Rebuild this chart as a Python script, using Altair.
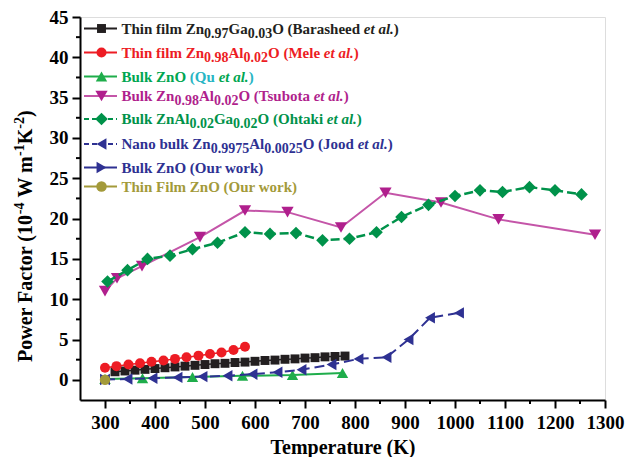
import altair as alt
import pandas as pd

FONT = "Liberation Serif"

# ---------------- data ----------------
sq_T = [320, 340, 360, 380, 400, 420, 440, 460, 480, 500, 520, 540, 560, 580, 600, 620, 640, 660, 680, 700, 720, 740, 760, 780]
sq_PF = [1.0, 1.1, 1.2, 1.3, 1.4, 1.5, 1.6, 1.7, 1.8, 1.9, 2.0, 2.05, 2.15, 2.2, 2.3, 2.4, 2.45, 2.55, 2.6, 2.7, 2.75, 2.85, 2.9, 2.95]

ci_T = [300, 323, 347, 370, 393, 417, 440, 463, 487, 510, 533, 557, 580]
ci_PF = [1.5, 1.7, 1.9, 2.05, 2.25, 2.4, 2.6, 2.8, 3.0, 3.2, 3.4, 3.7, 4.1]

tu_T = [300, 375, 475, 575, 675, 775]
tu_PF = [0.1, 0.2, 0.35, 0.5, 0.6, 0.85]

td_T = [300, 324, 374, 490, 580, 665, 772, 861, 972, 1087, 1280]
td_PF = [11.0, 12.6, 14.1, 17.7, 21.0, 20.8, 18.9, 23.2, 22.0, 19.9, 18.0]

di_T = [305, 345, 385, 430, 475, 525, 580, 630, 682, 735, 789, 843, 893, 947, 1000, 1050, 1095, 1149, 1200, 1253]
di_PF = [12.2, 13.6, 15.0, 15.4, 16.2, 17.0, 18.3, 18.1, 18.2, 17.3, 17.5, 18.3, 20.2, 21.7, 22.8, 23.5, 23.3, 23.9, 23.5, 23.0]

tl_T = [300, 345, 395, 445, 495, 545, 595, 645, 693, 753, 807, 863, 907, 950, 1008]
tl_PF = [0.05, 0.1, 0.2, 0.3, 0.4, 0.5, 0.7, 0.95, 1.25, 1.9, 2.6, 2.8, 5.0, 7.7, 8.3]

tr_T = [300]
tr_PF = [0.05]

ol_T = [300]
ol_PF = [0.0]

x_ticks = [300, 400, 500, 600, 700, 800, 900, 1000, 1100, 1200, 1300]
x_minor = [350, 450, 550, 650, 750, 850, 950, 1050, 1150, 1250]
y_ticks = [0, 5, 10, 15, 20, 25, 30, 35, 40, 45]
y_minor = [2.5, 7.5, 12.5, 17.5, 22.5, 27.5, 32.5, 37.5, 42.5]

# ---------------- geometry ----------------
PW, PH = 525, 383
XD = [250, 1300]
YD = [-2.5, 45]


def px2T(px):
    return XD[0] + px * (XD[1] - XD[0]) / PW


def py2PF(py):
    return YD[1] - py * (YD[1] - YD[0]) / PH


series = [
    dict(T=sq_T, PF=sq_PF, color="#231f20", line="#231f20", shape="square", size=80, dash=None, lw=1.5),
    dict(T=ci_T, PF=ci_PF, color="#ed1c24", line="#ed1c24", shape="circle", size=100, dash=None, lw=1.5),
    dict(T=tu_T, PF=tu_PF, color="#1fad4b", line="#1fad4b", shape="triangle-up", size=130, dash=None, lw=2),
    dict(T=td_T, PF=td_PF, color="#b01f8d", line="#c455a8", shape="triangle-down", size=150, dash=None, lw=2),
    dict(T=di_T, PF=di_PF, color="#00924a", line="#00924a", shape="diamond", size=160, dash=[9, 4], lw=2.5),
    dict(T=tl_T, PF=tl_PF, color="#2e3192", line="#2e3192", shape="triangle-left", size=130, dash=[10, 5], lw=2),
    dict(T=tr_T, PF=tr_PF, color="#2e3192", line="#2e3192", shape="triangle-right", size=130, dash=None, lw=2),
    dict(T=ol_T, PF=ol_PF, color="#a39a3a", line="#a39a3a", shape="circle", size=110, dash=None, lw=2),
]

xscale = alt.Scale(domain=XD, nice=False, zero=False)
yscale = alt.Scale(domain=YD, nice=False, zero=False)

xaxis = alt.Axis(
    values=x_ticks, title="Temperature (K)", grid=False, format="d",
    labelFont=FONT, labelFontWeight="bold", labelFontSize=19, labelColor="black",
    titleFont=FONT, titleFontWeight="bold", titleFontSize=20, titleColor="black",
    tickSize=8, tickColor="black", tickWidth=2, domainColor="black", domainWidth=2,
    labelPadding=5, titlePadding=5, labelFlush=False,
)
yaxis = alt.Axis(
    values=y_ticks, title=None, grid=False, format="d",
    labelFont=FONT, labelFontWeight="bold", labelFontSize=19, labelColor="black",
    tickSize=8, tickColor="black", tickWidth=2, domainColor="black", domainWidth=2,
    labelPadding=4, labelFlush=False,
)


def X(f="T"):
    return alt.X(f"{f}:Q", scale=xscale, axis=xaxis, title="Temperature (K)")


def Y(f="PF"):
    return alt.Y(f"{f}:Q", scale=yscale, axis=yaxis, title=None)


layers = []

# minor ticks
layers.append(alt.Chart(pd.DataFrame({"T": x_minor})).mark_rule(color="black", strokeWidth=2).encode(
    x=X(), y=alt.value(PH), y2=alt.value(PH + 4)))
layers.append(alt.Chart(pd.DataFrame({"PF": y_minor})).mark_rule(color="black", strokeWidth=2).encode(
    y=Y(), x=alt.value(-4), x2=alt.value(0)))

for s in series:
    df = pd.DataFrame({"T": s["T"], "PF": s["PF"]})
    if len(df) > 1:
        lkw = dict(color=s["line"], strokeWidth=s["lw"])
        if s["dash"]:
            lkw["strokeDash"] = s["dash"]
        layers.append(alt.Chart(df).mark_line(**lkw).encode(x=X(), y=Y()))
    layers.append(alt.Chart(df).mark_point(shape=s["shape"], filled=True, opacity=1,
                                           size=s["size"], color=s["color"]).encode(x=X(), y=Y()))

# ---------------- legend (rich text) ----------------
W_N = {' ': 250, '(': 333, ')': 333, '.': 250, '-': 333,
       'A': 722, 'B': 667, 'F': 611, 'G': 778, 'J': 500, 'K': 778, 'M': 944, 'N': 722, 'O': 778,
       'P': 611, 'Q': 778, 'T': 667, 'W': 1000, 'Z': 667,
       'a': 500, 'b': 556, 'c': 444, 'd': 556, 'e': 444, 'f': 333, 'g': 500, 'h': 556, 'i': 278,
       'k': 556, 'l': 278, 'm': 833, 'n': 556, 'o': 500, 'p': 556, 'r': 444, 's': 389, 't': 333,
       'u': 556, 'w': 722, 'y': 500}
for d in "0123456789":
    W_N[d] = 500
W_I = {'e': 444, 't': 278, ' ': 250, 'a': 500, 'l': 278, '.': 250}


def tw(text, size, italic=False):
    tab = W_I if italic else W_N
    return sum(tab.get(c, 500) for c in text) * size / 1000.0


# (text, kind, [colour], [width correction px])
legend_rows = [
    ("#231f20", [("Thin film Zn", "n"), ("0.97", "s"), ("Ga", "n"), ("0.03", "s"), ("O (Barasheed ", "n"), ("et al.", "i"), (")", "n")]),
    ("#ed1c24", [("Thin film Zn", "n"), ("0.98", "s"), ("Al", "n"), ("0.02", "s"), ("O (Mele ", "n"), ("et al.", "i"), (")", "n")]),
    ("#00a651", [("Bulk ZnO ", "n"), ("(Qu ", "n", "#27b5c4"), ("et al.", "i"), (")", "n", "#27b5c4")]),
    ("#b01f8d", [("Bulk Zn", "n"), ("0.98", "s"), ("Al", "n"), ("0.02", "s"), ("O (Tsubota ", "n", None, -1.5), ("et al.", "i"), (")", "n")]),
    ("#00924a", [("Bulk ZnAl", "n"), ("0.02", "s"), ("Ga", "n"), ("0.02", "s"), ("O (Ohtaki ", "n"), ("et al.", "i"), (")", "n")]),
    ("#2e3192", [("Nano bulk Zn", "n"), ("0.9975", "s"), ("Al", "n"), ("0.0025", "s"), ("O (Jood ", "n"), ("et al.", "i"), (")", "n")]),
    ("#2e3192", [("Bulk ZnO (Our work)", "n")]),
    ("#a39a3a", [("Thin Film ZnO (Our work)", "n")]),
]
row_y = [11.5, 35.5, 59.5, 79, 102, 127, 150.5, 169.5]  # marker centres, px from plot top
MAIN, SUB = 15, 14
text_x0 = 41.5

segs = []
for (col, parts), yc in zip(legend_rows, row_y):
    xcur = text_x0
    base = yc + 5
    for p in parts:
        txt, kind = p[0], p[1]
        c = p[2] if len(p) > 2 and p[2] else col
        corr = p[3] if len(p) > 3 else 0
        size = SUB if kind == "s" else MAIN
        yy = base + 4 if kind == "s" else base
        segs.append(dict(T=px2T(xcur), PF=py2PF(yy), txt=txt, color=c, kind=kind))
        xcur += tw(txt, size, kind == "i") + corr
seg_df = pd.DataFrame(segs)

for kind, size, style in [("n", MAIN, "normal"), ("s", SUB, "normal"), ("i", MAIN, "italic")]:
    layers.append(
        alt.Chart(seg_df[seg_df["kind"] == kind]).mark_text(
            font=FONT, fontWeight="bold", fontStyle=style, fontSize=size,
            align="left", baseline="alphabetic"
        ).encode(
            x=X(), y=Y(), text="txt:N",
            color=alt.Color("color:N", scale=None, legend=None),
        )
    )

for s, yc in zip(series, row_y):
    ldf = pd.DataFrame({"T": [px2T(4)], "T2": [px2T(37)], "PF": [py2PF(yc)], "Tm": [px2T(21.5)]})
    rkw = dict(color=s["line"], strokeWidth=2)
    if s["dash"]:
        rkw["strokeDash"] = [5, 3]
    layers.append(alt.Chart(ldf).mark_rule(**rkw).encode(x=X(), x2="T2:Q", y=Y()))
    layers.append(alt.Chart(ldf).mark_point(shape=s["shape"], filled=True, opacity=1,
                                            size=s["size"], color=s["color"]).encode(x=X("Tm"), y=Y()))

# ---------------- y title (rich text, rotated) ----------------
YT_MAIN, YT_SUP = 20, 14
# (text, kind, leading gap in em of main font) - SVG drops leading spaces
yt_parts = [("Power Factor (10", "n", 0), ("-4", "p", 0), ("W m", "n", 0.25), ("-1", "p", 0),
            ("K", "n", 0), ("-2", "p", 0), (")", "n", 0)]
yt_segs = []
ycur = 362.0 - 17
xb = 32 - 80
for txt, kind, gap in yt_parts:
    size = YT_SUP if kind == "p" else YT_MAIN
    ycur -= gap * YT_MAIN
    xx = xb - 8 if kind == "p" else xb
    yt_segs.append(dict(T=px2T(xx), PF=py2PF(ycur), txt=txt, kind=kind))
    ycur -= tw(txt, size)
yt_df = pd.DataFrame(yt_segs)
for kind, size in [("n", YT_MAIN), ("p", YT_SUP)]:
    layers.append(
        alt.Chart(yt_df[yt_df["kind"] == kind]).mark_text(
            font=FONT, fontWeight="bold", fontSize=size, align="left", baseline="alphabetic",
            angle=270, color="black").encode(x=X(), y=Y(), text="txt:N")
    )

chart = alt.layer(*layers).properties(
    width=PW, height=PH,
    autosize=alt.AutoSizeParams(type="none"),
    padding={"left": 80, "top": 17, "right": 22, "bottom": 57},
).configure_view(stroke="black", strokeWidth=2).configure(background="white")

chart.save("out.html", embed_options={"renderer": "svg", "actions": False})
